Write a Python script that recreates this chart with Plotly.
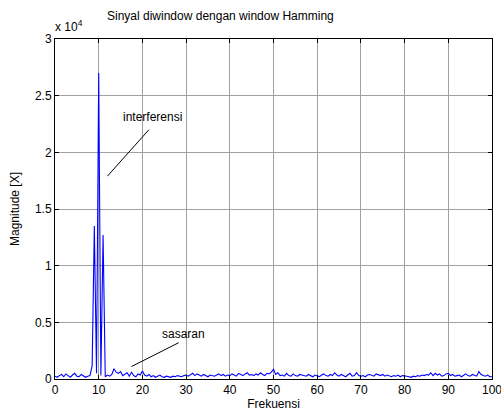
import numpy as np
import plotly.graph_objects as go

# Frequency grid (step 0.5) and magnitude values
freq = np.arange(0, 100.01, 0.5)
magnitude = (
    [250, 150, 300, 400, 200, 450, 300, 150, 350, 500, 250, 200, 400, 300, 150, 250, 300, 1150, 13500, 500]
    + [27000, 300, 12700, 200, 350, 250, 400, 900, 600, 500, 650, 300, 450, 550, 250, 600, 300, 200, 450, 350]
    + [700, 350, 250, 400, 200, 300, 150, 250, 350, 200, 150, 250, 200, 150, 250, 200, 300, 250, 200, 300]
    + [350, 250, 400, 500, 300, 450, 350, 250, 400, 300, 200, 350, 300, 250, 350, 450, 300, 400, 250, 350]
    + [300, 450, 350, 250, 500, 400, 300, 450, 550, 350, 400, 300, 450, 350, 550, 400, 300, 500, 450, 600]
    + [850, 400, 550, 300, 350, 250, 500, 300, 250, 450, 300, 250, 400, 350, 300, 250, 400, 300, 200, 350]
    + [300, 200, 350, 450, 300, 250, 400, 300, 550, 350, 250, 400, 300, 200, 350, 500, 250, 300, 550, 300]
    + [250, 300, 200, 350, 400, 300, 250, 450, 350, 300, 400, 250, 350, 300, 200, 300, 250, 350, 200, 300]
    + [300, 250, 200, 150, 250, 200, 300, 250, 350, 300, 400, 350, 550, 300, 500, 350, 450, 250, 300, 450]
    + [500, 300, 400, 250, 300, 350, 200, 300, 450, 300, 250, 400, 300, 250, 650, 400, 300, 250, 350, 200]
    + [200]
)

x_ticks = list(range(0, 101, 10))
y_tickvals = [0, 5000, 10000, 15000, 20000, 25000, 30000]
y_ticktext = ["0", "0.5", "1", "1.5", "2", "2.5", "3"]

title_text = "Sinyal diwindow dengan window Hamming"
x_title = "Frekuensi"
y_title = "Magnitude [X]"

FONT = "Liberation Sans, Arial, sans-serif"
FS = 12

fig = go.Figure()
fig.add_trace(go.Scatter(x=freq, y=magnitude, mode="lines",
                         line=dict(color="#0000ff", width=1.1), showlegend=False,
                         hoverinfo="skip"))

# annotation pointer lines
fig.add_trace(go.Scatter(x=[12.0, 21.5], y=[17900, 22000], mode="lines",
                         line=dict(color="black", width=1), showlegend=False, hoverinfo="skip"))
fig.add_trace(go.Scatter(x=[17.5, 28.3], y=[1100, 3200], mode="lines",
                         line=dict(color="black", width=1), showlegend=False, hoverinfo="skip"))

fig.add_annotation(x=22.4, y=23100, text="interferensi", showarrow=False,
                   font=dict(family=FONT, size=FS, color="black"))
fig.add_annotation(x=29.3, y=3970, text="sasaran", showarrow=False,
                   font=dict(family=FONT, size=FS, color="black"))

# title and exponent label
fig.add_annotation(xref="paper", yref="paper", x=(220 - 55) / 437, y=1 + (39 - 16) / 340,
                   yanchor="middle", text=title_text, showarrow=False,
                   font=dict(family=FONT, size=FS, color="black"))
fig.add_annotation(xref="paper", yref="paper", x=0, y=1.0, yshift=3, xshift=-2,
                   xanchor="left", yanchor="bottom", text="x 10<sup>4</sup>",
                   showarrow=False, font=dict(family=FONT, size=FS, color="black"))

axis_common = dict(showline=True, linecolor="black", linewidth=1, mirror="ticks",
                   ticks="inside", ticklen=4, tickcolor="black", automargin=False,
                   showgrid=True, gridcolor="#a0a0a0", gridwidth=1, zeroline=False,
                   tickfont=dict(family=FONT, size=FS, color="black"))

fig.update_xaxes(range=[0, 100], tickvals=x_ticks, ticklabeloverflow="allow", **axis_common,
                 title=dict(text=x_title, font=dict(family=FONT, size=FS, color="black"),
                            standoff=3))
fig.update_yaxes(range=[0, 30000], tickvals=y_tickvals, ticktext=y_ticktext, **axis_common,
                 title=dict(text=y_title, font=dict(family=FONT, size=FS, color="black"),
                            standoff=12))

fig.update_layout(width=501, height=414, margin=dict(l=55, r=9, t=39, b=35),
                  paper_bgcolor="white", plot_bgcolor="white",
                  font=dict(family=FONT, size=FS, color="black"))

fig.write_html("out.html")
